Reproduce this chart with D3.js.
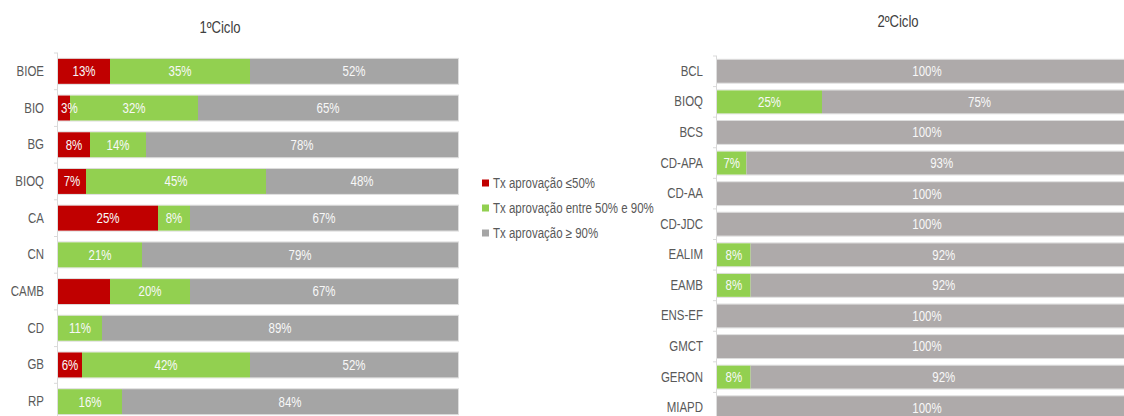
<!DOCTYPE html>
<html>
<head>
<meta charset="utf-8">
<script src="https://cdn.jsdelivr.net/npm/d3@7"></script>
<style>
  body { margin: 0; background: #fff; }
  text { font-family: "Liberation Sans", Arial, sans-serif; }
</style>
</head>
<body>
<div id="chart"></div>
<script>
// 1º ciclo
var cursos1 = ["BIOE","BIO","BG","BIOQ","CA","CN","CAMB","CD","GB","RP"];
var baixa1  = [13, 3, 8, 7, 25, 0, 13, 0, 6, 0];
var media1  = [35, 32, 14, 45, 8, 21, 20, 11, 42, 16];
var alta1   = [52, 65, 78, 48, 67, 79, 67, 89, 52, 84];
var semRotulo1 = ["CAMB|0"]; // red CAMB segment has no label in the original

// 2º ciclo
var cursos2 = ["BCL","BIOQ","BCS","CD-APA","CD-AA","CD-JDC","EALIM","EAMB","ENS-EF","GMCT","GERON","MIAPD"];
var baixa2  = [0, 0, 0, 0, 0, 0, 0, 0, 0, 0, 0, 0];
var media2  = [0, 25, 0, 7, 0, 0, 8, 8, 0, 0, 8, 0];
var alta2   = [100, 75, 100, 93, 100, 100, 92, 92, 100, 100, 92, 100];

var legenda = ["Tx aprovação ≤50%", "Tx aprovação entre 50% e 90%", "Tx aprovação ≥ 90%"];

var width = 1124, height = 416;
var SX = 0.82; // narrow look (Arial Narrow not available)
var svg = d3.select("#chart").append("svg")
  .attr("width", width).attr("height", height);

// place a horizontally condensed text at (x, y)
function narrow(sel, fx, fy) {
  sel.attr("transform", function(d, i) {
    return "translate(" + fx(d, i) + "," + fy(d, i) + ") scale(" + SX + ",1)";
  });
}

function painel(cfg) {
  var g = svg.append("g");
  var x = d3.scaleLinear().domain([0, 100]).range(cfg.xr);
  var y = d3.scaleBand().domain(cfg.cursos).range(cfg.yr)
    .paddingInner(cfg.pad).paddingOuter(cfg.pad / 2);

  var linhas = cfg.cursos.map(function(c, i) {
    var v = [cfg.baixa[i], cfg.media[i], cfg.alta[i]], acc = 0;
    return v.map(function(val, k) {
      var s = { curso: c, k: k, v: val, x0: acc, x1: acc + val };
      acc += val;
      return s;
    });
  });
  var segs = [].concat.apply([], linhas).filter(function(s) { return s.v > 0; });

  // category labels
  var ax = g.append("g").attr("transform", "translate(" + cfg.xr[0] + ",0)")
    .call(d3.axisLeft(y).tickSize(0).tickPadding(14 / SX));
  ax.select(".domain").remove();
  ax.selectAll("text").attr("fill", "#595959").style("font-size", "14px")
    .attr("transform", "scale(" + SX + ",1)");

  // axis line + ticks at band boundaries
  var step = y.step();
  var y0 = y(cfg.cursos[0]) - step * cfg.pad / 2;
  g.append("line").attr("x1", cfg.xr[0] - 0.5).attr("x2", cfg.xr[0] - 0.5)
    .attr("y1", y0).attr("y2", height + 20).attr("stroke", "#d9d9d9");
  g.selectAll(".tk").data(d3.range(cfg.cursos.length + 1)).enter().append("line")
    .attr("x1", cfg.xr[0] - 4).attr("x2", cfg.xr[0])
    .attr("y1", function(i) { return y0 + i * step; })
    .attr("y2", function(i) { return y0 + i * step; })
    .attr("stroke", "#d9d9d9");

  // row outlines
  g.selectAll(".row").data(cfg.cursos).enter().append("rect")
    .attr("x", x(0) - 0.5).attr("width", x(100) - x(0) + 1)
    .attr("y", function(c) { return y(c) - 0.5; })
    .attr("height", y.bandwidth() + 1)
    .attr("fill", "none").attr("stroke", "#dedede");

  g.selectAll(".seg").data(segs).enter().append("rect")
    .attr("x", function(d) { return x(d.x0); })
    .attr("width", function(d) { return x(d.x1) - x(d.x0); })
    .attr("y", function(d) { return y(d.curso); })
    .attr("height", y.bandwidth())
    .attr("fill", function(d) { return cfg.cores[d.k]; });

  var lbl = g.selectAll(".lbl").data(segs.filter(function(d) {
      return cfg.semRotulo.indexOf(d.curso + "|" + d.k) < 0;
    })).enter().append("text")
    .attr("dy", "0.35em")
    .attr("text-anchor", "middle")
    .attr("fill", "#f8f8f8")
    .style("font-size", "14px")
    .text(function(d) { return d.v + "%"; });
  // centre in segment, but keep labels of tiny segments inside the bar
  lbl.each(function(d) {
    var w = this.getComputedTextLength() * SX;
    var cx = (x(d.x0) + x(d.x1)) / 2;
    if (cx - w / 2 < x(0) + 3) cx = x(0) + 3 + w / 2;
    d3.select(this).attr("transform", "translate(" + cx + "," +
      (y(d.curso) + y.bandwidth() / 2) + ") scale(" + SX + ",1)");
  });

  var t = g.append("text").datum(cfg.titulo)
    .attr("text-anchor", "middle").attr("fill", "#404040")
    .style("font-size", "16px").text(function(d) { return d[0]; });
  narrow(t, function(d) { return d[1]; }, function(d) { return d[2]; });
}

painel({
  cursos: cursos1, baixa: baixa1, media: media1, alta: alta1, semRotulo: semRotulo1,
  xr: [58, 458], yr: [53, 420], pad: 0.32,
  cores: ["#c00000", "#92d050", "#a5a5a5"],
  titulo: ["1ºCiclo", 220, 33]
});

painel({
  cursos: cursos2, baixa: baixa2, media: media2, alta: alta2, semRotulo: [],
  xr: [717, 1137], yr: [56, 423], pad: 0.25,
  cores: ["#c00000", "#92d050", "#aeaaaa"],
  titulo: ["2ºCiclo", 898, 27]
});

// legend
var corLeg = ["#c00000", "#92d050", "#a5a5a5"];
var leg = svg.append("g").attr("transform", "translate(482,183)");
leg.selectAll("rect").data(legenda).enter().append("rect")
  .attr("x", 0).attr("y", function(d, i) { return i * 25 - 3.5; })
  .attr("width", 7).attr("height", 7)
  .attr("fill", function(d, i) { return corLeg[i]; });
var lt = leg.selectAll("text").data(legenda).enter().append("text")
  .attr("dy", "0.35em").attr("fill", "#595959")
  .style("font-size", "14px")
  .text(function(d) { return d; });
narrow(lt, function() { return 11; }, function(d, i) { return i * 25; });
</script>
</body>
</html>
